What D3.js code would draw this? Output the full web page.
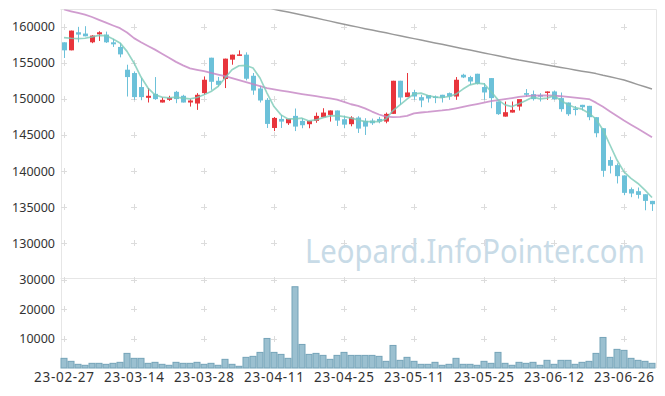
<!DOCTYPE html>
<html><head><meta charset="utf-8">
<script src="https://cdn.jsdelivr.net/npm/d3@7"></script>
<style>
html,body{margin:0;padding:0;background:#fff;}
svg{display:block;font-family:"Noto Sans",sans-serif;}
</style></head>
<body><svg id="c" width="665" height="396"></svg>
<script>
const dates = ["23-02-27","23-02-28","23-03-02","23-03-03","23-03-06","23-03-07","23-03-08","23-03-09","23-03-10","23-03-13",
"23-03-14","23-03-15","23-03-16","23-03-17","23-03-20","23-03-21","23-03-22","23-03-23","23-03-24","23-03-27",
"23-03-28","23-03-29","23-03-30","23-03-31","23-04-03","23-04-04","23-04-05","23-04-06","23-04-07","23-04-10",
"23-04-11","23-04-12","23-04-13","23-04-14","23-04-17","23-04-18","23-04-19","23-04-20","23-04-21","23-04-24",
"23-04-25","23-04-26","23-04-27","23-04-28","23-05-02","23-05-03","23-05-04","23-05-08","23-05-09","23-05-10",
"23-05-11","23-05-12","23-05-15","23-05-16","23-05-17","23-05-18","23-05-19","23-05-22","23-05-23","23-05-24",
"23-05-25","23-05-26","23-05-30","23-05-31","23-06-01","23-06-02","23-06-05","23-06-07","23-06-08","23-06-09",
"23-06-12","23-06-13","23-06-14","23-06-15","23-06-16","23-06-19","23-06-20","23-06-21","23-06-22","23-06-23",
"23-06-26","23-06-27","23-06-28","23-06-29","23-06-30"];

const open = [157820,156710,159210,159030,157820,158930,158890,157820,157180,154030,
153570,151630,150140,150690,149490,149860,150970,150420,149490,149350,
150790,155690,152500,152740,155420,156010,156110,153190,151430,149860,
145970,147220,146620,147640,146950,146490,146950,147460,147780,148390,
147180,146490,147410,146950,146990,147220,146850,147920,152500,150240,
150930,150230,150510,150320,150560,150790,150320,153330,153010,153470,
151630,152870,149630,147540,148100,148930,150790,150650,150510,150880,
151020,150100,149490,148660,149170,149030,147460,145930,141530,140830,
139400,137500,137220,136800,135880];
const high = [157820,159440,159960,160050,158800,159350,159300,158300,157730,154720,
153790,152880,151490,153010,150230,150420,151100,150560,149960,150790,
153100,155690,153030,155560,156110,156700,156430,153570,151800,150100,
147480,147780,147220,148660,147320,146950,148100,148700,148390,148390,
147680,147590,147590,147320,147270,147500,148100,152500,152500,153570,
151250,150560,150510,150460,150560,150880,153010,153470,153190,153470,
152180,152870,149630,149630,149630,149720,151350,151150,150790,151020,
151150,150880,149490,149000,149170,149030,147460,145930,142000,141070,
139400,137730,137730,136800,135880];
const low = [155650,156710,157820,158650,157700,158010,157730,157180,155740,150320,
149860,149810,149490,149860,149490,149720,149400,149490,148930,148470,
150560,151250,151710,151490,154720,155970,152550,150560,149490,145970,
145540,145970,146390,145540,145930,145930,146690,147460,146850,146250,
145930,146200,145280,145000,146390,146620,146620,147920,149170,150240,
149860,148840,149490,149400,149490,149860,149860,152870,151950,151990,
149860,148700,147780,147540,148100,148380,150320,149760,149630,149860,
149860,148220,147640,147700,148400,147040,144680,139210,139670,138290,
136670,136390,136200,134580,134490];
const close = [156710,159440,158890,158650,158750,159210,157820,157540,156150,153010,
150240,150240,150420,149960,149860,150140,149960,149490,149770,150560,
152640,152360,151940,155560,156110,156150,152780,151150,149770,146530,
147360,146850,147220,146160,146350,146950,147640,148100,148390,146990,
146430,147410,145880,146160,146620,146850,147920,152500,150180,150880,
150320,149770,150040,150140,150140,150320,152640,152960,152400,152080,
150880,150100,147880,148150,148470,149960,150560,149960,150420,151020,
149960,148570,147870,148470,148840,147460,145240,140040,140740,139300,
136990,136900,136710,135880,135420];
const volume = [3290,2270,1250,920,1590,1590,1250,1590,1930,4980,
3290,3290,1590,1930,1250,920,1930,1590,1590,1930,
1250,1590,920,2950,1250,580,3630,3970,5320,10070,
5320,4640,3290,27690,8030,4640,4980,4300,2950,4300,
5320,4300,4300,4300,4300,3970,2270,7690,2610,3630,
2270,1250,1250,1930,920,1250,3290,1250,1250,920,
2270,1590,5320,1590,920,1930,1590,1930,920,2610,
1250,2610,2610,1250,1930,2270,4980,10410,3630,6350,
6010,3290,2610,2270,1590];
const maShort = [158470,158380,158330,158380,158570,158790,158750,158290,157740,156570,
154960,153010,151490,150560,150240,150140,150240,150100,150000,150180,
150560,151010,151710,152880,154030,154580,154620,154260,152880,150790,
148930,147780,147220,147220,147320,146940,147080,147400,147640,147680,
147540,147320,147080,146850,146850,146850,147220,148380,149170,149960,
150690,150790,150460,150240,150180,150320,150650,151350,151940,152180,
152080,151010,149860,149170,148930,149310,149760,150240,150000,150100,
150420,149760,149170,148790,148570,148010,147180,145690,143610,141530,
139900,138990,138290,137360,136350];
const maMid = [162360,162110,161880,161640,161320,160930,160540,160150,159780,159170,
158400,157830,157320,156810,156250,155670,155110,154630,154220,154010,
153820,153600,153360,153130,152880,152600,152320,152040,151760,151490,
151320,151150,150990,150820,150650,150500,150360,150210,150070,149890,
149580,149250,149030,148680,148240,147830,147530,147470,147500,147630,
147990,148110,148190,148310,148390,148500,148690,148890,149080,149280,
149470,149670,149810,149970,150110,150260,150380,150430,150460,150470,
150430,150360,150260,150170,150070,149970,149470,148890,148260,147630,
147000,146420,145850,145260,144680];
const maLong = [null,null,null,null,null,null,null,null,null,null,
null,null,null,null,null,null,null,null,null,null,
null,null,null,null,null,null,null,null,null,162710,
162390,162190,162000,161810,161610,161390,161180,160960,160750,160540,
160320,160110,159920,159710,159510,159320,159130,158920,158720,158530,
158330,158130,157930,157740,157540,157330,157140,156940,156750,156560,
156350,156150,155960,155760,155560,155360,155190,155030,154850,154680,
154510,154350,154180,154000,153830,153670,153490,153260,153060,152830,
152600,152290,151970,151670,151350];
const priceTicks = [130000,135000,140000,145000,150000,155000,160000];
const volumeTicks = [10000,20000,30000];
const dateTickLabels = ["23-02-27","23-03-14","23-03-28","23-04-11","23-04-25","23-05-11","23-05-25","23-06-12","23-06-26"];

const svg = d3.select("#c");
const L = 60.5, R = 655.5, T = 9.5, PB = 278.5, VB = 368;
const x = d3.scaleBand().domain(dates).range([L, R]).padding(0);
const cx = d => x(d) + x.bandwidth()/2;
const yP = d3.scaleLinear().domain([125140, 162360]).range([PB, T]);
const yV = d3.scaleLinear().domain([0, 30500]).range([VB, PB]);

svg.append("defs").append("clipPath").attr("id","pc")
  .append("rect").attr("x",L).attr("y",T).attr("width",R-L).attr("height",PB-T);

// frame
const frame = "#e6e6e6";
svg.append("line").attr("x1",L).attr("x2",R+1).attr("y1",T).attr("y2",T).attr("stroke",frame);
svg.append("line").attr("x1",L).attr("x2",R+1).attr("y1",PB).attr("y2",PB).attr("stroke",frame);
svg.append("line").attr("x1",L+1).attr("x2",L+1).attr("y1",T).attr("y2",VB).attr("stroke",frame);
svg.append("line").attr("x1",R+1).attr("x2",R+1).attr("y1",T).attr("y2",VB).attr("stroke",frame);

// grid crosses
const crossG = svg.append("g").attr("stroke","#dcdcdc").attr("stroke-width",1);
const gridX = dateTickLabels.map(d => cx(d)).concat([cx(dates[80]) + 70]);
function cross(px, py){
  crossG.append("line").attr("x1",px-3).attr("x2",px+3).attr("y1",py+0.5).attr("y2",py+0.5);
  crossG.append("line").attr("x1",px+0.5).attr("x2",px+0.5).attr("y1",py-3).attr("y2",py+3);
}
gridX.forEach(gx => {
  priceTicks.forEach(t => cross(Math.round(gx), Math.round(yP(t))));
  volumeTicks.forEach(t => cross(Math.round(gx), Math.round(yV(t))));
});

// watermark: fit natural width, keep tall glyphs with a vertical scale
const wmBase = 32, wmWidth = 340;
const wm = svg.append("text").attr("font-size",wmBase).attr("fill","#c8dbe7").text("Leopard.InfoPointer.com");
const natural = wm.node().getComputedTextLength();
const fs = wmBase * wmWidth / natural;
wm.attr("font-size",fs).attr("x",0).attr("y",0)
  .attr("transform",`translate(305,263) scale(1,${(wmBase/fs).toFixed(3)})`);

// volume bars
svg.append("g").selectAll("rect").data(dates).join("rect")
  .attr("x",d => x(d)+0.5).attr("width",x.bandwidth()-1)
  .attr("y",(d,i) => yV(volume[i])).attr("height",(d,i) => VB - yV(volume[i]))
  .attr("fill","#9bc0d0").attr("stroke","#74a3b8").attr("stroke-width",1);

// candles
const up = "#e8353c", dn = "#6cc1d9";
const cg = svg.append("g").attr("clip-path","url(#pc)");
const cs = cg.selectAll("g").data(dates).join("g");
cs.append("line")
  .attr("x1",d => Math.round(cx(d))+0.5).attr("x2",d => Math.round(cx(d))+0.5)
  .attr("y1",(d,i) => yP(high[i])).attr("y2",(d,i) => yP(low[i]))
  .attr("stroke",(d,i) => close[i] >= open[i] ? up : dn).attr("stroke-width",1);
cs.append("rect")
  .attr("x",d => Math.round(cx(d))-2).attr("width",5)
  .attr("y",(d,i) => yP(Math.max(open[i],close[i])))
  .attr("height",(d,i) => Math.max(1.5, Math.abs(yP(open[i]) - yP(close[i]))))
  .attr("fill",(d,i) => close[i] >= open[i] ? up : dn);

// moving averages
function maLine(vals, color, w, op){
  const line = d3.line().defined(d => d[1] != null).x(d => cx(d[0])).y(d => yP(d[1])).curve(d3.curveLinear);
  cg.append("path").datum(dates.map((d,i) => [d, vals[i]])).attr("d", line)
    .attr("fill","none").attr("stroke",color).attr("stroke-width",w).attr("stroke-opacity",op)
    .attr("stroke-linejoin","round");
}
maLine(maLong, "#8e8e8e", 1.5, 0.9);
maLine(maMid, "#c483c3", 1.8, 0.8);
maLine(maShort, "#7ccbb8", 1.7, 0.8);

// y labels
const lab = svg.append("g").attr("fill","#333").attr("font-size",12.5).attr("text-anchor","end");
priceTicks.forEach(t => lab.append("text").attr("x",55).attr("y",yP(t)+4.5).text(d3.format("d")(t)));
volumeTicks.forEach(t => lab.append("text").attr("x",55).attr("y",yV(t)+4.5).text(d3.format("d")(t)));

// x labels
const xl = svg.append("g").attr("fill","#333").attr("font-size",13.5).attr("letter-spacing","0.7px").attr("text-anchor","middle");
dateTickLabels.forEach(d => xl.append("text").attr("x",cx(d)+0.4).attr("y",382).text(d));
</script></body></html>
